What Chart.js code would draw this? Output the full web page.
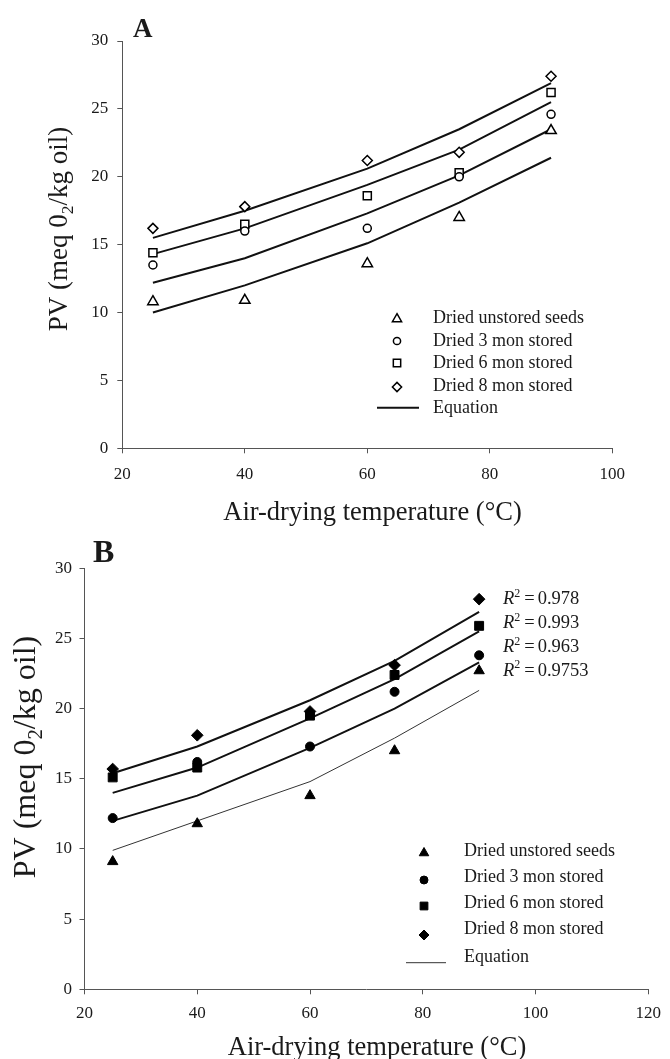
<!DOCTYPE html>
<html><head><meta charset="utf-8">
<script src="https://cdn.jsdelivr.net/npm/chart.js@4.4.1/dist/chart.umd.min.js"></script>
<style>
html,body{margin:0;padding:0;background:#fff;}
#wrap{position:relative;width:670px;height:1059px;overflow:hidden;background:#fff;}
canvas{position:absolute;left:0;top:0;}
</style></head><body>
<div id="wrap"><canvas id="cA" width="670" height="1059"></canvas><canvas id="cB" width="670" height="1059"></canvas></div>
<script>
// ---------- data ----------
const temps = [25, 40, 60, 75, 90];
const seriesNames = ['Dried unstored seeds', 'Dried 3 mon stored', 'Dried 6 mon stored', 'Dried 8 mon stored'];
const equationLabel = 'Equation';

// Panel A (observed)
const aUnstored = [10.8, 10.9, 13.6, 17.0, 23.4];
const a3mon     = [13.5, 16.0, 16.2, 20.0, 24.6];
const a6mon     = [14.4, 16.5, 18.6, 20.3, 26.2];
const a8mon     = [16.2, 17.8, 21.2, 21.8, 27.4];
// Panel A (equation lines)
const aEqUnstored = [10.0, 12.0, 15.1, 18.1, 21.4];
const aEq3mon     = [12.2, 14.0, 17.3, 20.1, 23.5];
const aEq6mon     = [14.3, 16.2, 19.4, 22.0, 25.5];
const aEq8mon     = [15.5, 17.5, 20.6, 23.5, 26.9];

// Panel B (observed)
const bUnstored = [9.1, 11.8, 13.8, 17.0, 22.7];
const b3mon     = [12.2, 16.2, 17.3, 21.2, 23.8];
const b6mon     = [15.1, 15.8, 19.5, 22.4, 25.9];
const b8mon     = [15.7, 18.1, 19.8, 23.1, 27.8];
// Panel B (equation lines)
const bEqUnstored = [9.9, 12.0, 14.8, 17.9, 21.3];
const bEq3mon     = [12.0, 13.8, 17.2, 20.0, 23.3];
const bEq6mon     = [14.0, 15.8, 19.3, 22.1, 25.5];
const bEq8mon     = [15.4, 17.3, 20.6, 23.4, 26.9];
const bR2 = ['0.978', '0.993', '0.963', '0.9753'];

const xTicksA = [20, 40, 60, 80, 100];
const xTicksB = [20, 40, 60, 80, 100, 120];
const yTicks = [0, 5, 10, 15, 20, 25, 30];
const xTitle = 'Air-drying temperature (\u00B0C)';
// ---------------------------

const FAM = '"Liberation Serif", "Times New Roman", Times, serif';
Chart.defaults.font.family = FAM;
Chart.defaults.color = '#1a1a1a';

const pts = arr => temps.map((t, i) => ({x: t, y: arr[i]}));

function scatterDS(label, arr, style, r, filled) {
  return {label, data: pts(arr), showLine: false, pointStyle: style, pointRadius: r, pointHoverRadius: r,
    pointBackgroundColor: filled ? '#000' : '#fff', pointBorderColor: '#000', pointBorderWidth: filled ? 1 : 1.5, order: 0};
}
function lineDS(arr, w, color) {
  return {label: equationLabel, data: pts(arr), showLine: true, pointRadius: 0, borderColor: color, borderWidth: w,
    tension: 0, fill: false, order: 1};
}

function scales(xTicks, yW, xH, xPad, yPad) {
  const axisCol = '#555';
  return {
    x: {type: 'linear', min: xTicks[0], max: xTicks[xTicks.length - 1],
      afterFit: s => { s.height = xH; },
      afterBuildTicks: s => { s.ticks = xTicks.map(v => ({value: v})); },
      ticks: {font: {size: 17}, color: '#1a1a1a', padding: xPad, maxRotation: 0},
      grid: {display: true, drawOnChartArea: false, drawTicks: true, tickLength: 5, color: axisCol, lineWidth: 1},
      border: {display: true, color: axisCol, width: 1}},
    y: {type: 'linear', min: yTicks[0], max: yTicks[yTicks.length - 1],
      afterFit: s => { s.width = yW; },
      afterBuildTicks: s => { s.ticks = yTicks.map(v => ({value: v})); },
      ticks: {font: {size: 17}, color: '#1a1a1a', padding: yPad},
      grid: {display: true, drawOnChartArea: false, drawTicks: true, tickLength: 5, color: axisCol, lineWidth: 1},
      border: {display: true, color: axisCol, width: 1}}
  };
}

function marker(ctx, style, x, y, r, filled) {
  ctx.save();
  ctx.beginPath();
  if (style === 'circle') ctx.arc(x, y, r, 0, Math.PI * 2);
  else if (style === 'rect') { const s = r * Math.SQRT1_2; ctx.rect(x - s, y - s, 2 * s, 2 * s); }
  else if (style === 'rectRot') { ctx.moveTo(x - r, y); ctx.lineTo(x, y - r); ctx.lineTo(x + r, y); ctx.lineTo(x, y + r); ctx.closePath(); }
  else if (style === 'triangle') {
    const a = Math.PI * 2 / 3;
    ctx.moveTo(x, y - r); ctx.lineTo(x + Math.sin(a) * r, y - Math.cos(a) * r);
    ctx.lineTo(x + Math.sin(2 * a) * r, y - Math.cos(2 * a) * r); ctx.closePath();
  }
  ctx.fillStyle = filled ? '#000' : '#fff';
  ctx.fill();
  ctx.lineWidth = filled ? 1 : 1.5;
  ctx.strokeStyle = '#000';
  ctx.stroke();
  ctx.restore();
}

function yTitle(ctx, bx, cy, size) {
  const f = s => s + 'px ' + FAM;
  const p1 = 'PV (meq 0', p2 = '2', p3 = '/kg oil)';
  ctx.save();
  ctx.translate(bx, cy); ctx.rotate(-Math.PI / 2);
  ctx.fillStyle = '#1a1a1a'; ctx.textAlign = 'left'; ctx.textBaseline = 'alphabetic';
  ctx.font = f(size); const w1 = ctx.measureText(p1).width, w3 = ctx.measureText(p3).width;
  ctx.font = f(size * 0.65); const w2 = ctx.measureText(p2).width;
  let x = -(w1 + w2 + w3) / 2;
  ctx.font = f(size); ctx.fillText(p1, x, 0); x += w1;
  ctx.font = f(size * 0.65); ctx.fillText(p2, x, size * 0.22); x += w2;
  ctx.font = f(size); ctx.fillText(p3, x, 0);
  ctx.restore();
}

function text(ctx, str, x, y, font, align) {
  ctx.save(); ctx.font = font; ctx.fillStyle = '#1a1a1a';
  ctx.textAlign = align || 'left'; ctx.textBaseline = 'alphabetic';
  ctx.fillText(str, x, y); ctx.restore();
}

const stylesList = ['triangle', 'circle', 'rect', 'rectRot'];

const decorA = {
  id: 'decorA',
  afterDraw(chart) {
    const ctx = chart.ctx;
    text(ctx, 'A', 133, 37.3, 'bold 27px ' + FAM);
    yTitle(ctx, 66.7, 229, 27);
    text(ctx, xTitle, 372.5, 520, '26.5px ' + FAM, 'center');
    const mY = [319, 341, 363, 387], tY = [323.3, 345.7, 367.7, 391, 413.3], mR = [5.3, 3.6, 5.2, 4.6];
    for (let i = 0; i < 4; i++) {
      marker(ctx, stylesList[i], 397, mY[i], mR[i], false);
      text(ctx, seriesNames[i], 433, tY[i], '18px ' + FAM);
    }
    ctx.save(); ctx.strokeStyle = '#111'; ctx.lineWidth = 2;
    ctx.beginPath(); ctx.moveTo(377, 407.7); ctx.lineTo(419, 407.7); ctx.stroke(); ctx.restore();
    text(ctx, equationLabel, 433, tY[4], '18px ' + FAM);
  }
};

const decorB = {
  id: 'decorB',
  afterDraw(chart) {
    const ctx = chart.ctx;
    text(ctx, 'B', 93, 562, 'bold 32px ' + FAM);
    yTitle(ctx, 35, 757, 32);
    text(ctx, xTitle, 377, 1055, '26.5px ' + FAM, 'center');
    const mY = [853, 880, 906, 935], tY = [856, 881.7, 908.3, 934, 961.7], mR = [5.5, 4, 5.5, 5];
    for (let i = 0; i < 4; i++) {
      marker(ctx, stylesList[i], 424, mY[i], mR[i], true);
      text(ctx, seriesNames[i], 464, tY[i], '18px ' + FAM);
    }
    ctx.save(); ctx.strokeStyle = '#333'; ctx.lineWidth = 1;
    ctx.beginPath(); ctx.moveTo(406, 962.7); ctx.lineTo(446, 962.7); ctx.stroke(); ctx.restore();
    text(ctx, equationLabel, 464, tY[4], '18px ' + FAM);
    // R^2 labels
    const rY = [604.3, 628.3, 652.3, 675.7];
    const fs = 18.5;
    for (let i = 0; i < 4; i++) {
      let x = 503;
      ctx.save(); ctx.fillStyle = '#1a1a1a'; ctx.textBaseline = 'alphabetic'; ctx.textAlign = 'left';
      ctx.font = 'italic ' + fs + 'px ' + FAM; ctx.fillText('R', x, rY[i]); x += ctx.measureText('R').width;
      ctx.font = (fs * 0.65) + 'px ' + FAM; ctx.fillText('2', x, rY[i] - fs * 0.42); x += ctx.measureText('2').width + 4;
      ctx.font = fs + 'px ' + FAM; ctx.fillText('=', x, rY[i]); x += ctx.measureText('=').width + 3;
      ctx.fillText(bR2[i], x, rY[i]);
      ctx.restore();
    }
  }
};

const common = {responsive: false, animation: false, devicePixelRatio: 1,
  plugins: {legend: {display: false}, tooltip: {enabled: false}, title: {display: false}}};

new Chart(document.getElementById('cA'), {
  type: 'scatter',
  data: {datasets: [
    scatterDS(seriesNames[0], aUnstored, 'triangle', 6, false),
    scatterDS(seriesNames[1], a3mon, 'circle', 4, false),
    scatterDS(seriesNames[2], a6mon, 'rect', 5.7, false),
    scatterDS(seriesNames[3], a8mon, 'rectRot', 5, false),
    lineDS(aEqUnstored, 2, '#111'),
    lineDS(aEq3mon, 2, '#111'),
    lineDS(aEq6mon, 2, '#111'),
    lineDS(aEq8mon, 2, '#111')
  ]},
  options: Object.assign({}, common, {
    layout: {padding: {top: 41, right: 57.7, bottom: 1059 - 448.3 - 60, left: 0}},
    scales: scales(xTicksA, 122.3, 60, 11.5, 9)
  }),
  plugins: [decorA]
});

new Chart(document.getElementById('cB'), {
  type: 'scatter',
  data: {datasets: [
    scatterDS(seriesNames[0], bUnstored, 'triangle', 6, true),
    scatterDS(seriesNames[1], b3mon, 'circle', 4.5, true),
    scatterDS(seriesNames[2], b6mon, 'rect', 6.3, true),
    scatterDS(seriesNames[3], b8mon, 'rectRot', 5.8, true),
    lineDS(bEqUnstored, 1, '#333'),
    lineDS(bEq3mon, 2, '#111'),
    lineDS(bEq6mon, 2, '#111'),
    lineDS(bEq8mon, 2, '#111')
  ]},
  options: Object.assign({}, common, {
    layout: {padding: {top: 568.3, right: 14.7, bottom: 1059 - 989.3 - 60, left: 0}},
    scales: scales(xTicksB, 84.5, 60, 9, 7.5)
  }),
  plugins: [decorB]
});
</script>
</body></html>
